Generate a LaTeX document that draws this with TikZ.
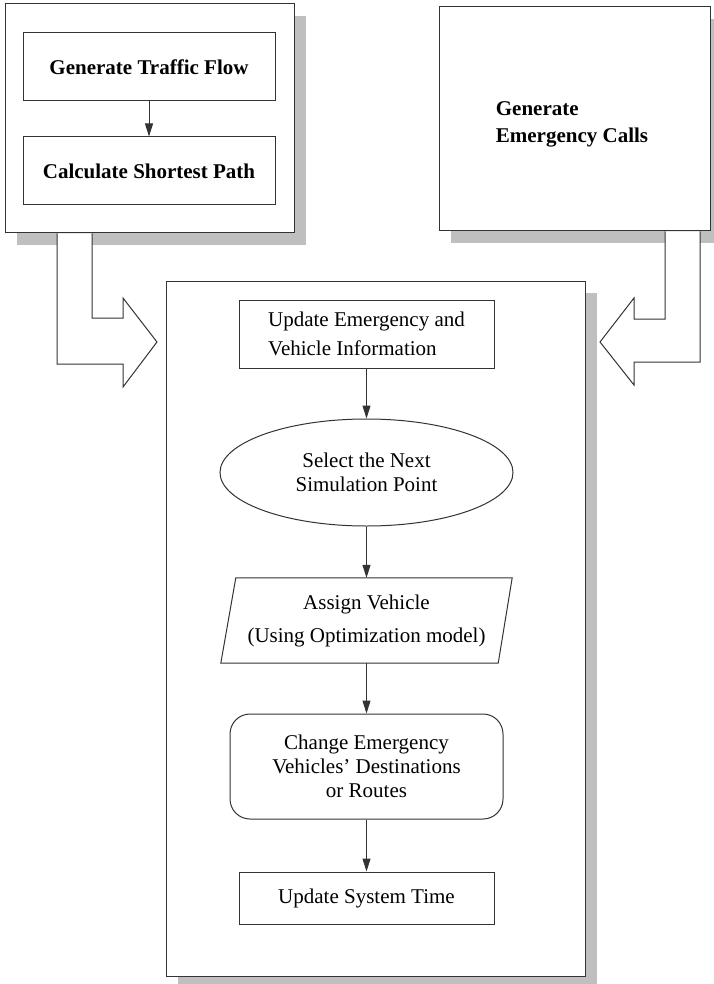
\documentclass[tikz,border=0pt]{standalone}
\usepackage{fontspec}
\setmainfont{Liberation Serif}
\usetikzlibrary{arrows.meta,shadows,shapes.geometric}

\definecolor{lineclr}{gray}{0.2}
\definecolor{shadowclr}{gray}{0.75}

\tikzset{
  every node/.style={font=\fontsize{21}{24}\selectfont, inner sep=0pt, align=center},
  boxed/.style={draw=lineclr, line width=1pt, fill=white, rectangle},
  panel/.style={boxed, drop shadow={shadow xshift=12pt, shadow yshift=-12pt, fill=shadowclr, opacity=1}},
  flow/.style={draw=lineclr, line width=1pt, -{Triangle[length=13pt,width=8pt]}},
  bigarrow/.style={draw=lineclr, line width=1pt, fill=white, line join=miter},
  heading/.style={font=\fontsize{21}{24}\selectfont\bfseries},
}

\begin{document}
\begin{tikzpicture}[x=1pt,y=1pt]
\useasboundingbox (0,0) rectangle (713,-984);

% outer panels with their shadows
\node[panel, minimum width=289pt, minimum height=229pt] (inputL) at (149.5,-118.5) {};
\node[panel, minimum width=271pt, minimum height=224pt] (inputR) at (574.5,-119) {};
\node[panel, minimum width=419pt, minimum height=695pt] (sim) at (375.5,-628.5) {};

% right panel label
\node[heading, align=left, font=\fontsize{21}{27}\selectfont\bfseries] (calls) at (572,-124)
  {Generate\\Emergency Calls};

% left panel contents
\node[boxed, heading, minimum width=252pt, minimum height=68pt]
  (traffic) at (149,-67) {Generate Traffic Flow};
\node[boxed, heading, minimum width=252pt, minimum height=68pt]
  (path) at (149,-171) {Calculate Shortest Path};
\draw[flow] (traffic) -- (path);

% block arrows feeding the simulation panel
\draw[bigarrow] (inputL.south -| 57,0) -- (57,-364) -- (123,-364) -- (123,-387)
  -- (157,-342) -- (123,-298) -- (123,-318) -- (92,-318) -- (inputL.south -| 92,0);
\draw[bigarrow] (inputR.south -| 700,0) -- (700,-362) -- (634,-362) -- (634,-385)
  -- (600,-342) -- (634,-298) -- (634,-319) -- (665,-319) -- (inputR.south -| 665,0);

% simulation loop
\node[boxed, minimum width=255pt, minimum height=68pt, align=left] (update) at (366.5,-334)
  {Update Emergency and\\[5pt]Vehicle Information};
\node[draw=lineclr, line width=1pt, ellipse, minimum width=293pt, minimum height=107pt]
  (select) at (366.5,-472.5) {Select the Next\\Simulation Point};
\node[minimum width=291pt, minimum height=85pt] (assign) at (366.5,-620.5)
  {Assign Vehicle\\[9pt](Using Optimization model)};
\draw[draw=lineclr, line width=1pt, line join=miter]
  (assign.south west) -- ([xshift=-14pt]assign.south east) -- (assign.north east)
  -- ([xshift=15pt]assign.north west) -- cycle;
\node[boxed, rounded corners=20pt, minimum width=273pt, minimum height=105pt] (change) at (366.5,-766.5)
  {Change Emergency\\Vehicles’ Destinations\\or Routes};
\node[boxed, minimum width=255pt, minimum height=52pt] (clock) at (366.5,-898) {Update System Time};

\draw[flow] (update) -- (select);
\draw[flow] (select) -- (assign);
\draw[flow] (assign) -- (change);
\draw[flow] (change) -- (clock);
\end{tikzpicture}
\end{document}
